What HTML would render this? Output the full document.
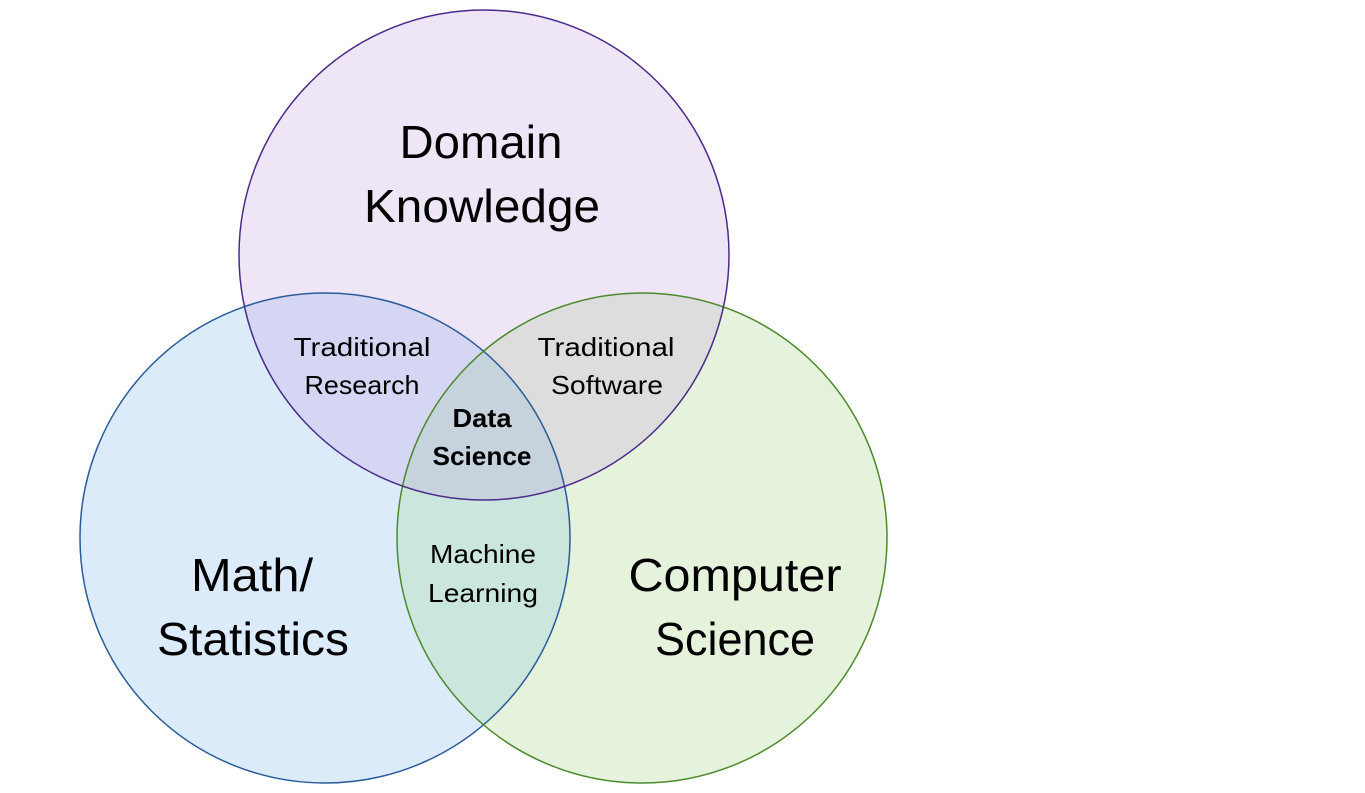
<!DOCTYPE html>
<html><head><meta charset="utf-8"><style>
html,body{margin:0;padding:0;background:#fff;}
svg{display:block;}
text{font-family:"Liberation Sans",sans-serif;fill:#000;text-anchor:middle;}
</style></head><body>
<svg width="1365" height="793" viewBox="0 0 1365 793" xmlns="http://www.w3.org/2000/svg">
<defs>
<clipPath id="cT"><circle cx="484" cy="255" r="245"/></clipPath>
<clipPath id="cL"><circle cx="325" cy="538" r="245"/></clipPath>
<clipPath id="cR"><circle cx="642" cy="538" r="245"/></clipPath>
</defs>
<circle cx="484" cy="255" r="245" fill="#EEE5F6"/>
<circle cx="325" cy="538" r="245" fill="#DCEBFA"/>
<circle cx="642" cy="538" r="245" fill="#E5F2DC"/>
<g clip-path="url(#cT)"><circle cx="325" cy="538" r="245" fill="#D4D6F4"/><circle cx="642" cy="538" r="245" fill="#DCDDDC"/></g>
<g clip-path="url(#cL)"><circle cx="642" cy="538" r="245" fill="#CBE6DD"/></g>
<g clip-path="url(#cL)"><g clip-path="url(#cR)"><circle cx="484" cy="255" r="245" fill="#C6D2DC"/></g></g>
<circle cx="325" cy="538" r="245" fill="none" stroke="#2A5C9A" stroke-width="1.5"/>
<circle cx="642" cy="538" r="245" fill="none" stroke="#4C8A2C" stroke-width="1.5"/>
<circle cx="484" cy="255" r="245" fill="none" stroke="#4B2A8A" stroke-width="1.5"/>
<g font-size="46">
<text x="481" y="158" textLength="163" lengthAdjust="spacingAndGlyphs">Domain</text>
<text x="482" y="222" textLength="236" lengthAdjust="spacingAndGlyphs">Knowledge</text>
<text x="252" y="591" textLength="122" lengthAdjust="spacingAndGlyphs">Math/</text>
<text x="253" y="655" textLength="192" lengthAdjust="spacingAndGlyphs">Statistics</text>
<text x="735" y="591" textLength="213" lengthAdjust="spacingAndGlyphs">Computer</text>
<text x="735" y="655" textLength="160" lengthAdjust="spacingAndGlyphs">Science</text>
</g>
<g font-size="26">
<text x="362" y="356" textLength="137" lengthAdjust="spacingAndGlyphs">Traditional</text>
<text x="362" y="394" textLength="115" lengthAdjust="spacingAndGlyphs">Research</text>
<text x="606" y="356" textLength="137" lengthAdjust="spacingAndGlyphs">Traditional</text>
<text x="607" y="394" textLength="112" lengthAdjust="spacingAndGlyphs">Software</text>
<text x="483" y="563" textLength="106" lengthAdjust="spacingAndGlyphs">Machine</text>
<text x="483" y="602" textLength="110" lengthAdjust="spacingAndGlyphs">Learning</text>
<text x="482" y="427" font-weight="bold" textLength="59" lengthAdjust="spacingAndGlyphs">Data</text>
<text x="482" y="465" font-weight="bold" textLength="99" lengthAdjust="spacingAndGlyphs">Science</text>
</g>
</svg>
</body></html>
